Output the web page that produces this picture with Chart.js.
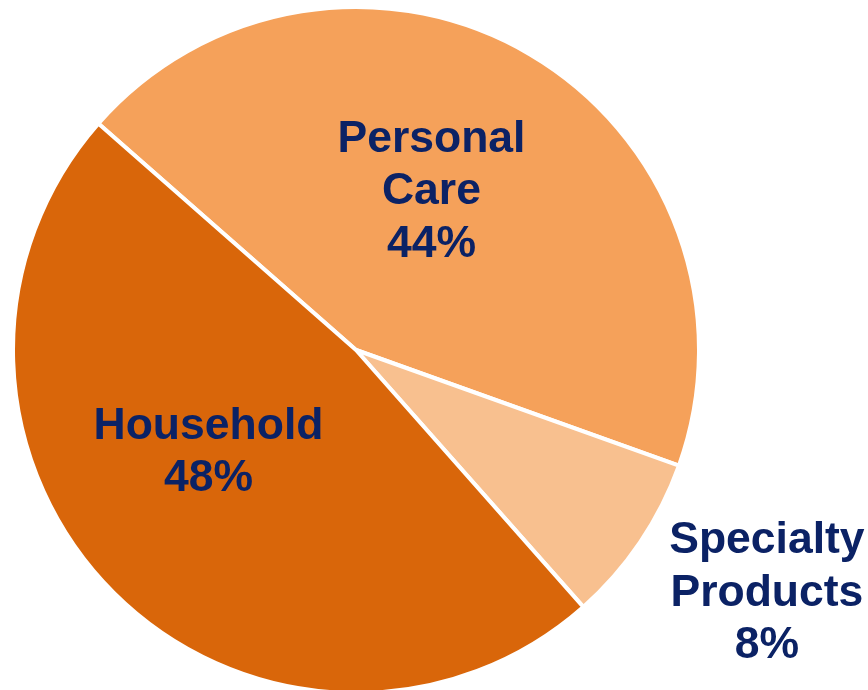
<!DOCTYPE html>
<html>
<head>
<meta charset="utf-8">
<script src="https://cdn.jsdelivr.net/npm/chart.js@4.4.1/dist/chart.umd.min.js"></script>
<style>
  html, body { margin: 0; padding: 0; background: #fff; }
  #wrap { width: 868px; height: 690px; }
</style>
</head>
<body>
<div id="wrap"><canvas id="pie" width="868" height="690"></canvas></div>
<script>
// segment names (one line per array item) and their shares in percent
const segments = [["Personal", "Care"], ["Specialty", "Products"], ["Household"]];
const shares = [44, 8, 48];
const sliceColors = ["#F5A15A", "#F8C08F", "#D9660A"];

// where each label block sits, as fractions of the radius from the pie centre
const labelSpots = [[0.22, -0.46], [1.198, 0.71], [-0.43, 0.30]];

const sliceLabels = {
  id: "sliceLabels",
  afterDatasetsDraw(chart) {
    const { ctx } = chart;
    const arcs = chart.getDatasetMeta(0).data;
    ctx.save();
    ctx.font = "bold 44.5px 'Liberation Sans', Arial, sans-serif";
    ctx.fillStyle = "#0B2265";
    ctx.textAlign = "center";
    ctx.textBaseline = "middle";
    const lineH = 52.5;
    arcs.forEach((arc, i) => {
      const r = arc.outerRadius;
      const cx = arc.x + labelSpots[i][0] * r;
      const cy = arc.y + labelSpots[i][1] * r;
      const lines = segments[i].concat([shares[i] + "%"]);
      const top = cy - (lines.length - 1) * lineH / 2;
      lines.forEach((t, k) => ctx.fillText(t, cx, top + k * lineH));
    });
    ctx.restore();
  }
};

new Chart(document.getElementById("pie"), {
  type: "pie",
  data: {
    labels: segments.map(s => s.join(" ")),
    datasets: [{
      data: shares,
      backgroundColor: sliceColors,
      borderColor: "#ffffff",
      borderWidth: 4
    }]
  },
  options: {
    responsive: false,
    animation: false,
    rotation: -48.7,
    radius: 343,
    layout: { padding: { left: 11, right: 167, top: 10, bottom: 0 } },
    plugins: {
      legend: { display: false },
      tooltip: { enabled: false }
    }
  },
  plugins: [sliceLabels]
});
</script>
</body>
</html>
